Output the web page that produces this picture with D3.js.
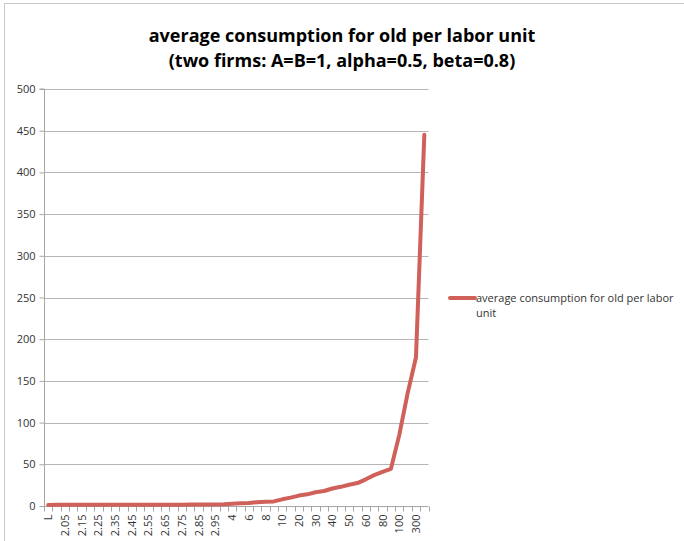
<!DOCTYPE html>
<html>
<head>
<meta charset="utf-8">
<script src="https://cdn.jsdelivr.net/npm/d3@7"></script>
<style>
  html, body { margin: 0; padding: 0; background: #fff; }
  svg { display: block; }
  text { font-family: "Open Sans", "Lato", sans-serif; fill: #333; }
</style>
</head>
<body>
<svg id="chart" width="684" height="541"></svg>
<script>
// Categories of the x axis (parameter levels); only every other one is labelled
const categories = [
  "L", "2", "2.05", "2.1", "2.15", "2.2", "2.25", "2.3", "2.35", "2.4",
  "2.45", "2.5", "2.55", "2.6", "2.65", "2.7", "2.75", "2.8", "2.85", "2.9",
  "2.95", "3", "4", "5", "6", "7", "8", "9", "10", "15",
  "20", "25", "30", "35", "40", "45", "50", "55", "60", "70",
  "80", "90", "100", "200", "300", "400"
];

// average consumption for old per labor unit
const consumption = [
  1.3, 1.4, 1.4, 1.4, 1.4, 1.4, 1.5, 1.5, 1.5, 1.5,
  1.5, 1.5, 1.6, 1.6, 1.6, 1.6, 1.6, 1.7, 1.7, 1.7,
  1.8, 2.0, 2.8, 3.2, 3.5, 4.5, 5.0, 5.5, 8.0, 10.0,
  12.5, 14.0, 16.5, 18.0, 21.0, 23.0, 25.5, 27.5, 32.0, 37.0,
  41.0, 44.5, 85.0, 135.0, 178.0, 445.0
];

const yTicks = [0, 50, 100, 150, 200, 250, 300, 350, 400, 450, 500];

const seriesName = "average consumption for old per labor unit";
const titleLines = [
  "average consumption for old per labor unit",
  "(two firms: A=B=1, alpha=0.5, beta=0.8)"
];

const lineColor = "#d0605a";
const gridColor = "#b5b5b5";
const axisColor = "#a6a6a6";

const svg = d3.select("#chart");

// chart frame
svg.append("rect")
  .attr("x", 4.5).attr("y", 3.5)
  .attr("width", 700).attr("height", 600)
  .attr("fill", "none").attr("stroke", "#c8c8c8");

// title
svg.append("g").selectAll("text")
  .data(titleLines)
  .join("text")
  .attr("x", 342)
  .attr("y", (d, i) => 42 + i * 25)
  .attr("text-anchor", "middle")
  .style("font-weight", "bold")
  .style("font-size", "18px")
  .style("fill", "#000")
  .text(d => d);

const plot = { left: 44, right: 428.5, top: 89, bottom: 506 };

const x = d3.scaleBand()
  .domain(categories)
  .range([plot.left, plot.right])
  .paddingInner(0).paddingOuter(0);

const y = d3.scaleLinear()
  .domain([0, 500])
  .range([plot.bottom, plot.top]);

// horizontal gridlines
svg.append("g")
  .selectAll("line")
  .data(yTicks.filter(t => t > 0))
  .join("line")
  .attr("x1", plot.left).attr("x2", plot.right)
  .attr("y1", d => Math.round(y(d)) + 0.5)
  .attr("y2", d => Math.round(y(d)) + 0.5)
  .attr("stroke", gridColor).attr("stroke-width", 1);

// y axis
const yAxis = d3.axisLeft(y)
  .tickValues(yTicks)
  .tickSize(5)
  .tickPadding(4)
  .tickFormat(d3.format("d"));

const gy = svg.append("g")
  .attr("transform", `translate(${plot.left + 0.5},0)`)
  .call(yAxis);
gy.selectAll("path, line").attr("stroke", axisColor);
gy.select(".domain").attr("d", `M-5,${y(500)}H0V${y(0)}`);
gy.selectAll("text").style("font-size", "11px").style("fill", "#333");

// x axis: tick marks on band boundaries, labels on every other category
const gx = svg.append("g")
  .attr("transform", `translate(0,${plot.bottom + 0.5})`);
gx.append("line")
  .attr("x1", plot.left).attr("x2", plot.right)
  .attr("stroke", axisColor);
const boundaries = categories.map(c => x(c)).concat([plot.right]);
gx.selectAll("line.tick")
  .data(boundaries)
  .join("line")
  .attr("class", "tick")
  .attr("x1", d => Math.round(d) + 0.5).attr("x2", d => Math.round(d) + 0.5)
  .attr("y1", 0).attr("y2", 5)
  .attr("stroke", axisColor);
gx.selectAll("text")
  .data(categories.filter((c, i) => i % 2 === 0))
  .join("text")
  .attr("transform", d => `translate(${x(d) + x.bandwidth() / 2 + 4},${8}) rotate(-90)`)
  .attr("text-anchor", "end")
  .style("font-size", "11px")
  .style("fill", "#333")
  .text(d => d);

// data line
const line = d3.line()
  .x((d, i) => x(categories[i]) + x.bandwidth() / 2)
  .y(d => y(d));

svg.append("path")
  .datum(consumption)
  .attr("d", line)
  .attr("fill", "none")
  .attr("stroke", lineColor)
  .attr("stroke-width", 4)
  .attr("stroke-linejoin", "round")
  .attr("stroke-linecap", "round");

// legend
const legend = svg.append("g").attr("transform", "translate(450,298)");
legend.append("line")
  .attr("x1", 0).attr("x2", 25)
  .attr("stroke", lineColor).attr("stroke-width", 4)
  .attr("stroke-linecap", "round");
legend.append("text")
  .attr("x", 26).attr("y", 4)
  .style("font-size", "11px")
  .selectAll("tspan")
  .data(["average consumption for old per labor", "unit"])
  .join("tspan")
  .attr("x", 26)
  .attr("dy", (d, i) => i === 0 ? 0 : 15)
  .text(d => d);
</script>
</body>
</html>
